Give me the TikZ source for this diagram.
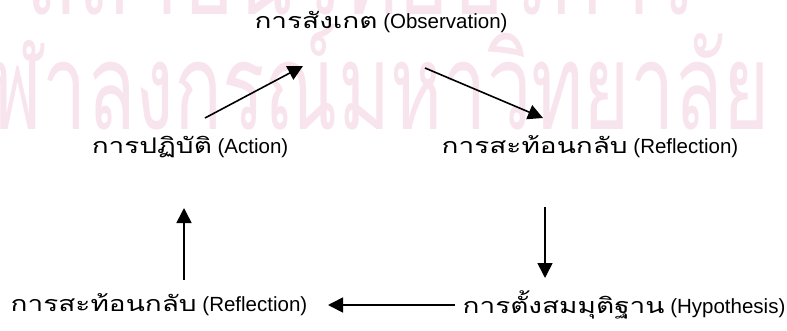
\documentclass[tikz,border=0pt]{standalone}
\usepackage{fontspec}
\setmainfont{Liberation Sans}
\newfontfamily\thai[Script=Thai, Scale=1.05, FakeStretch=1.3]{Loma}
\newfontfamily\thaistamp[Script=Thai]{Loma}
\usetikzlibrary{arrows.meta}

\definecolor{wmark}{RGB}{248,228,236}

\tikzset{
  label/.style={inner sep=0pt, font=\fontsize{20.5}{24}\selectfont},
  arr/.style={line width=1.6pt, -{Triangle[length=15pt,width=15pt]}},
  wm/.style={text=wmark, inner sep=0pt, anchor=base west,
             font=\thaistamp\fontsize{120}{120}\selectfont}
}

\begin{document}
\begin{tikzpicture}[x=1pt, y=-1pt]
  \useasboundingbox (0,0) rectangle (787,330);
  \clip (0,0) rectangle (787,330);

  % faint library stamp behind the cycle
  \node[wm, xscale=0.72] (wmtop) at (25,14) {สถาบันวิทยบริการ};
  \node[wm, xscale=0.66] (wmbot) at (-58,129) {จุฬาลงกรณ์มหาวิทยาลัย};

  % stages of the cycle
  \node[label] (obs)  at (381,22)  {{\thai การสังเกต} (Observation)};
  \node[label] (refR) at (590,147) {{\thai การสะท้อนกลับ} (Reflection)};
  \node[label] (hyp)  at (624,305) {{\thai การตั้งสมมุติฐาน} (Hypothesis)};
  \node[label] (refL) at (159,305) {{\thai การสะท้อนกลับ} (Reflection)};
  \node[label] (act)  at (190,147) {{\thai การปฏิบัติ} (Action)};

  % connectors
  \draw[arr] ([shift={(15,-29)}]act.center)  -- ([shift={(-78,44)}]obs.center);
  \draw[arr] ([shift={(44,46)}]obs.center)   -- ([shift={(-47,-29)}]refR.center);
  \draw[arr] ([shift={(-45,60)}]refR.center) -- ([shift={(-79,-27)}]hyp.center);
  \draw[arr] ([shift={(-169,0)}]hyp.center)  -- ([shift={(169,0)}]refL.center);
  \draw[arr] ([shift={(25,-25)}]refL.center) -- ([shift={(-6,61)}]act.center);
\end{tikzpicture}
\end{document}
